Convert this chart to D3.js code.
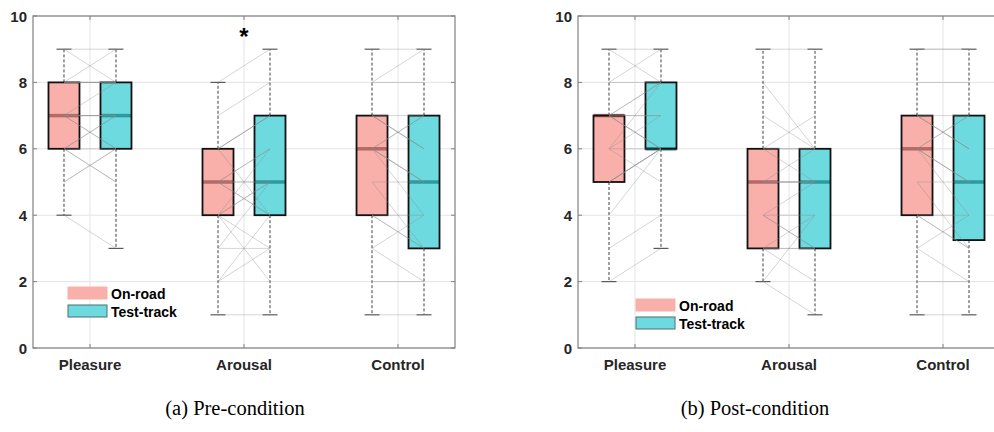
<!DOCTYPE html>
<html>
<head>
<meta charset="utf-8">
<script src="https://cdn.jsdelivr.net/npm/d3@7"></script>
<style>
  html, body { margin: 0; padding: 0; background: #fff; }
  svg { display: block; }
</style>
</head>
<body>
<svg id="chart" width="994" height="432"></svg>
<script>
// Emotion ratings (1-9 scale) per dimension, on-road vs test-track
const categories = ["Pleasure", "Arousal", "Control"];
const groups = ["On-road", "Test-track"];
const yTicks = [0, 2, 4, 6, 8, 10];

// Box statistics per category: [lower whisker, q1, median, q3, upper whisker]
const preOnRoadStats   = [[4, 6, 7, 8, 9], [1, 4, 5, 6, 8], [1, 4, 6, 7, 9]];
const preTestTrackStats = [[3, 6, 7, 8, 9], [1, 4, 5, 7, 9], [1, 3, 5, 7, 9]];
const postOnRoadStats   = [[2, 5, 7, 7, 9], [2, 3, 5, 6, 9], [1, 4, 6, 7, 9]];
const postTestTrackStats = [[3, 6, 6, 8, 9], [1, 3, 5, 6, 9], [1, 3.25, 5, 7, 9]];

// Individual participant ratings (paired on-road / test-track)
const prePleasureOn  = [7, 8, 6, 9, 7, 5, 8, 6, 7, 4, 8, 7, 6, 9, 7, 8, 6, 7, 5, 8, 6, 7];
const prePleasureTest = [7, 9, 6, 8, 7, 6, 8, 5, 7, 3, 8, 6, 7, 9, 6, 8, 7, 7, 6, 8, 5, 8];
const preArousalOn   = [5, 4, 6, 1, 5, 3, 8, 4, 6, 5, 2, 7, 4, 5, 6, 3, 5, 4, 6, 5, 4, 2];
const preArousalTest = [5, 6, 7, 1, 4, 5, 9, 3, 7, 6, 4, 8, 5, 4, 7, 3, 6, 5, 4, 5, 2, 3];
const preControlOn   = [6, 7, 4, 9, 6, 1, 7, 5, 3, 6, 8, 4, 7, 6, 2, 5, 6, 4, 7, 6, 8, 3];
const preControlTest = [5, 7, 3, 9, 4, 1, 6, 5, 4, 7, 8, 3, 6, 5, 2, 3, 7, 4, 6, 5, 9, 2];

const postPleasureOn  = [7, 6, 5, 9, 7, 2, 7, 5, 8, 6, 7, 3, 7, 5, 8, 4, 7, 6, 7, 5, 9, 6];
const postPleasureTest = [6, 8, 6, 9, 7, 3, 6, 6, 8, 5, 6, 4, 8, 6, 9, 6, 7, 6, 8, 6, 8, 7];
const postArousalOn   = [5, 4, 6, 9, 3, 2, 5, 7, 3, 6, 5, 2, 4, 5, 6, 3, 5, 4, 6, 3, 8, 4];
const postArousalTest = [5, 3, 6, 9, 4, 1, 5, 6, 3, 6, 5, 4, 3, 5, 7, 3, 6, 4, 5, 2, 6, 5];
const postControlOn   = [6, 7, 4, 9, 6, 1, 7, 5, 3, 6, 8, 4, 7, 6, 2, 5, 6, 4, 7, 6, 9, 3];
const postControlTest = [5, 7, 3, 9, 4, 1, 6, 5, 4, 7, 8, 3, 6, 5, 2, 3, 7, 4, 6, 5, 9, 2];

const captions = ["(a) Pre-condition", "(b) Post-condition"];
const significance = [{ panel: 0, category: "Arousal", value: 9.5, mark: "*" }];

const panels = [
  {
    caption: captions[0],
    x0: 33, x1: 455,
    stats: [preOnRoadStats, preTestTrackStats],
    pairs: [[prePleasureOn, prePleasureTest], [preArousalOn, preArousalTest], [preControlOn, preControlTest]],
    legend: { x: 68, y: 287 }
  },
  {
    caption: captions[1],
    x0: 578, x1: 1000,
    stats: [postOnRoadStats, postTestTrackStats],
    pairs: [[postPleasureOn, postPleasureTest], [postArousalOn, postArousalTest], [postControlOn, postControlTest]],
    legend: { x: 636, y: 299 }
  }
];

const fills = ["#f9afaa", "#6cdadf"];
const medianColors = ["#b56a67", "#2c9a9e"];
const boxOffset = 26, boxW = 31, capW = 15;
const yTop = 16, yBottom = 348;

const svg = d3.select("#chart");
const font = "'Liberation Sans', Arial, Helvetica, sans-serif";

const y = d3.scaleLinear().domain([0, 10]).range([yBottom, yTop]);

panels.forEach((p, pi) => {
  const g = svg.append("g");
  const x = d3.scaleLinear().domain([0.63, 3.37]).range([p.x0, p.x1]);
  const xc = i => x(i + 1);

  // grid
  g.append("g").selectAll("line.hg").data(yTicks).join("line")
    .attr("x1", p.x0).attr("x2", p.x1)
    .attr("y1", d => y(d)).attr("y2", d => y(d))
    .attr("stroke", "#e4e4e4").attr("stroke-width", 1);
  g.append("g").selectAll("line.vg").data(categories).join("line")
    .attr("x1", (d, i) => xc(i)).attr("x2", (d, i) => xc(i))
    .attr("y1", yTop).attr("y2", yBottom)
    .attr("stroke", "#e4e4e4").attr("stroke-width", 1);

  // boxes
  categories.forEach((c, ci) => {
    groups.forEach((grp, gi) => {
      const s = p.stats[gi][ci];
      const cx = xc(ci) + (gi === 0 ? -boxOffset : boxOffset);
      // whiskers
      g.append("line").attr("x1", cx).attr("x2", cx)
        .attr("y1", y(s[3])).attr("y2", y(s[4]))
        .attr("stroke", "#404040").attr("stroke-width", 1).attr("stroke-dasharray", "3,2");
      g.append("line").attr("x1", cx).attr("x2", cx)
        .attr("y1", y(s[1])).attr("y2", y(s[0]))
        .attr("stroke", "#404040").attr("stroke-width", 1).attr("stroke-dasharray", "3,2");
      [s[0], s[4]].forEach(v => {
        g.append("line").attr("x1", cx - capW / 2).attr("x2", cx + capW / 2)
          .attr("y1", y(v)).attr("y2", y(v))
          .attr("stroke", "#5a5a5a").attr("stroke-width", 1.2);
      });
      g.append("rect")
        .attr("x", cx - boxW / 2).attr("width", boxW)
        .attr("y", y(s[3])).attr("height", y(s[1]) - y(s[3]))
        .attr("fill", fills[gi]).attr("stroke", "none");
      g.append("line").attr("x1", cx - boxW / 2).attr("x2", cx + boxW / 2)
        .attr("y1", y(s[2])).attr("y2", y(s[2]))
        .attr("stroke", medianColors[gi]).attr("stroke-width", 3.5);
      g.append("rect")
        .attr("x", cx - boxW / 2).attr("width", boxW)
        .attr("y", y(s[3])).attr("height", y(s[1]) - y(s[3]))
        .attr("fill", "none").attr("stroke", "#111").attr("stroke-width", 1.8);
    });
  });

  // paired participant lines
  categories.forEach((c, ci) => {
    const [on, test] = p.pairs[ci];
    const xa = xc(ci) - boxOffset, xb = xc(ci) + boxOffset;
    g.append("g").selectAll("line").data(on).join("line")
      .attr("x1", xa).attr("x2", xb)
      .attr("y1", d => y(d)).attr("y2", (d, i) => y(test[i]))
      .attr("stroke", "#8a8a8a").attr("stroke-opacity", 0.4).attr("stroke-width", 0.9);
  });

  // frame
  g.append("rect").attr("x", p.x0).attr("y", yTop)
    .attr("width", p.x1 - p.x0).attr("height", yBottom - yTop)
    .attr("fill", "none").attr("stroke", "#808080").attr("stroke-width", 1.2);

  // tick marks (inward)
  yTicks.forEach(t => {
    g.append("line").attr("x1", p.x0).attr("x2", p.x0 + 4).attr("y1", y(t)).attr("y2", y(t)).attr("stroke", "#808080");
    g.append("line").attr("x1", p.x1).attr("x2", p.x1 - 4).attr("y1", y(t)).attr("y2", y(t)).attr("stroke", "#808080");
  });
  categories.forEach((c, ci) => {
    g.append("line").attr("x1", xc(ci)).attr("x2", xc(ci)).attr("y1", yBottom).attr("y2", yBottom - 4).attr("stroke", "#808080");
    g.append("line").attr("x1", xc(ci)).attr("x2", xc(ci)).attr("y1", yTop).attr("y2", yTop + 4).attr("stroke", "#808080");
  });

  // y tick labels
  g.append("g").selectAll("text").data(yTicks).join("text")
    .attr("x", p.x0 - 6).attr("y", d => y(d) + 5.5)
    .attr("text-anchor", "end")
    .attr("font-family", font).attr("font-weight", "bold").attr("font-size", 15)
    .attr("fill", "#262626").text(d => d);

  // category labels
  g.append("g").selectAll("text").data(categories).join("text")
    .attr("x", (d, i) => xc(i)).attr("y", 370)
    .attr("text-anchor", "middle")
    .attr("font-family", font).attr("font-weight", "bold").attr("font-size", 15)
    .attr("fill", "#262626").text(d => d);

  // legend
  const lg = g.append("g").attr("transform", `translate(${p.legend.x},${p.legend.y})`);
  groups.forEach((grp, gi) => {
    lg.append("rect").attr("x", 0).attr("y", gi * 18).attr("width", 39).attr("height", 12)
      .attr("fill", fills[gi])
      .attr("stroke", gi === 0 ? fills[0] : "#4f6f70").attr("stroke-width", 1);
    lg.append("text").attr("x", 43).attr("y", gi * 18 + 12)
      .attr("font-family", font).attr("font-weight", "bold").attr("font-size", 14)
      .attr("fill", "#000").text(grp);
  });

  // significance marker
  significance.filter(s => s.panel === pi).forEach(s => {
    const ci = categories.indexOf(s.category);
    g.append("text").attr("x", xc(ci)).attr("y", y(s.value) + 12)
      .attr("text-anchor", "middle")
      .attr("font-family", font).attr("font-weight", "bold").attr("font-size", 24)
      .attr("fill", "#000").text(s.mark);
  });

  // caption
  svg.append("text").attr("x", pi === 0 ? 235 : 755).attr("y", 415)
    .attr("text-anchor", "middle")
    .attr("font-family", "'Liberation Serif', 'Times New Roman', serif").attr("font-size", 20.5)
    .attr("fill", "#000").text(p.caption);
});
</script>
</body>
</html>
